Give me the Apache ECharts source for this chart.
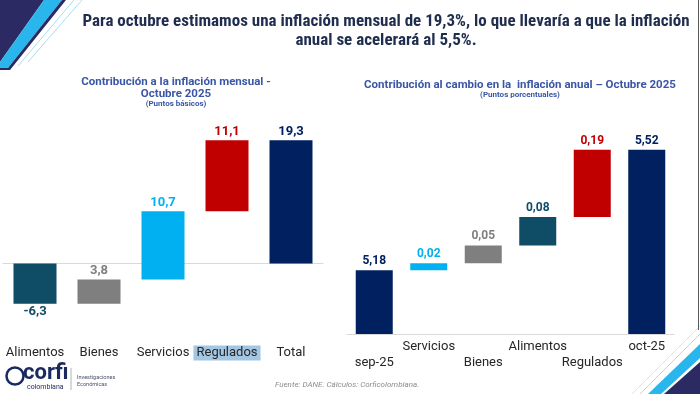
<!DOCTYPE html>
<html>
<head>
<meta charset="utf-8">
<script src="https://cdn.jsdelivr.net/npm/echarts@6/dist/echarts.min.js"></script>
<style>
  html, body { margin: 0; padding: 0; background: #fff; }
  #chart { width: 700px; height: 394px; }
</style>
</head>
<body>
<div id="chart"></div>
<script>
// ---- Data ----
const leftCategories = ['Alimentos', 'Bienes', 'Servicios', 'Regulados', 'Total'];
const leftValues = [-6.3, 3.8, 10.7, 11.1, 19.3];
const leftIsTotal = [false, false, false, false, true];

const rightCategories = ['sep-25', 'Servicios', 'Bienes', 'Alimentos', 'Regulados', 'oct-25'];
const rightValues = [5.18, 0.02, 0.05, 0.08, 0.19, 5.52];
const rightIsTotal = [true, false, false, false, false, true];

// ---- Styles ----
const NAVY = '#002060', TEAL = '#0F4C66', GRAY = '#7F7F7F', SKY = '#00B0F0', RED = '#C00000';
const leftColors = [TEAL, GRAY, SKY, RED, NAVY];
const rightColors = [NAVY, SKY, GRAY, TEAL, RED, NAVY];

function bases(values, isTotal) {
  let run = 0;
  return values.map((v, i) => {
    if (isTotal[i]) { run = v; return 0; }
    const b = run; run += v; return b;
  });
}
const leftBase = bases(leftValues, leftIsTotal);
const rightBase = bases(rightValues, rightIsTotal);

function fmt(v, d) { return v.toFixed(d).replace('.', ','); }

const chart = echarts.init(document.getElementById('chart'), null, { renderer: 'canvas' });

const subColor = '#3A56A5';
const option = {
  backgroundColor: '#ffffff',
  animation: false,
  title: [
    {
      text: 'Para octubre estimamos una inflación mensual de 19,3%, lo que llevaría a que la inflación\nanual se acelerará al 5,5%.',
      left: 381, top: 7, textAlign: 'center',
      textStyle: { fontFamily: 'Liberation Sans Narrow, Roboto Condensed, Roboto', fontWeight: 'bold', fontSize: 17, lineHeight: 19, color: '#1F2D4E' }
    },
    {
      text: 'Contribución a la inflación mensual -\nOctubre 2025',
      left: 171, top: 71, textAlign: 'center',
      textStyle: { fontFamily: 'Roboto', fontWeight: 'bold', fontSize: 11.5, lineHeight: 12, color: subColor },
      subtext: '(Puntos básicos)', itemGap: 0,
      subtextStyle: { fontFamily: 'Roboto', fontWeight: 'bold', fontSize: 8, color: subColor }
    },
    {
      text: 'Contribución al cambio en la  inflación anual – Octubre 2025',
      left: 515, top: 74, textAlign: 'center',
      textStyle: { fontFamily: 'Roboto', fontWeight: 'bold', fontSize: 11.5, lineHeight: 12, color: subColor },
      subtext: '(Puntos porcentuales)', itemGap: 0,
      subtextStyle: { fontFamily: 'Roboto', fontWeight: 'bold', fontSize: 8, color: subColor }
    },
    {
      text: 'Fuente: DANE. Cálculos: Corficolombiana.',
      left: 270, top: 376,
      textStyle: { fontFamily: 'Roboto', fontStyle: 'italic', fontWeight: 'normal', fontSize: 8, color: '#8C8C8C' }
    }
  ],
  grid: [
    { left: 3, right: 377, top: 104, bottom: 54 },
    { left: 347, right: 26, top: 86, bottom: 60 }
  ],
  xAxis: [
    {
      type: 'category', gridIndex: 0, data: leftCategories,
      axisLine: { lineStyle: { color: '#D9D9D9' } }, axisTick: { show: false },
      axisLabel: {
        margin: 5, fontFamily: 'Roboto', fontSize: 13, color: '#262626', lineHeight: 16, interval: 0,
        formatter: v => v === 'Regulados' ? '{hl|' + v + '}' : v,
        rich: { hl: { backgroundColor: '#A3C6E3', padding: [1, 3, 1, 3], fontFamily: 'Roboto', fontSize: 13, color: '#262626', lineHeight: 16 } }
      }
    },
    {
      type: 'category', gridIndex: 1, data: rightCategories,
      axisLine: { lineStyle: { color: '#D9D9D9' } }, axisTick: { show: false },
      axisLabel: {
        margin: 5, fontFamily: 'Roboto', fontSize: 13, color: '#262626', lineHeight: 16, interval: 0,
        formatter: (v, i) => (i % 2 === 0 ? '\n' + v : v)
      }
    }
  ],
  yAxis: [
    { type: 'value', gridIndex: 0, min: -12, max: 25, show: false, splitLine: { show: false } },
    { type: 'value', gridIndex: 1, min: 5.0, max: 5.7, show: false, splitLine: { show: false } }
  ],
  series: [
    {
      type: 'bar', xAxisIndex: 0, yAxisIndex: 0, stack: 'L', stackStrategy: 'all',
      data: leftBase, barWidth: 43, itemStyle: { color: 'transparent' }, silent: true
    },
    {
      type: 'bar', xAxisIndex: 0, yAxisIndex: 0, stack: 'L', stackStrategy: 'all', barWidth: 43,
      data: leftValues.map((v, i) => ({
        value: v,
        itemStyle: { color: leftColors[i] },
        label: { color: leftColors[i], position: v < 0 ? 'bottom' : 'top' }
      })),
      label: {
        show: true, distance: 2, fontFamily: 'Roboto', fontWeight: 'bold', fontSize: 13,
        formatter: p => fmt(leftValues[p.dataIndex], 1)
      }
    },
    {
      type: 'bar', xAxisIndex: 1, yAxisIndex: 1, stack: 'R', stackStrategy: 'all',
      data: rightBase, barWidth: 37, itemStyle: { color: 'transparent' }, silent: true
    },
    {
      type: 'bar', xAxisIndex: 1, yAxisIndex: 1, stack: 'R', stackStrategy: 'all', barWidth: 37,
      data: rightValues.map((v, i) => ({
        value: v,
        itemStyle: { color: rightColors[i] },
        label: { color: rightColors[i] }
      })),
      label: {
        show: true, position: 'top', distance: 3, fontFamily: 'Roboto', fontWeight: 'bold', fontSize: 12,
        formatter: p => fmt(rightValues[p.dataIndex], 2)
      }
    }
  ],
  graphic: [
    // top-left decoration
    { type: 'polygon', shape: { points: [[0, 0], [44, 0], [0, 62]] }, style: { fill: '#2B2A63' } },
    { type: 'polygon', shape: { points: [[44, 0], [62, 0], [8, 68], [0, 68], [0, 62]] }, style: { fill: '#29B6EC' } },
    { type: 'polygon', shape: { points: [[62, 0], [66, 0], [10, 70], [0, 70], [0, 68], [8, 68]] }, style: { fill: '#2B2A63' } },
    { type: 'line', shape: { x1: 74, y1: 0, x2: 18, y2: 66 }, style: { stroke: '#8FD3F0', lineWidth: 0.8 } },
    { type: 'line', shape: { x1: 82, y1: 0, x2: 28, y2: 62 }, style: { stroke: '#8FD3F0', lineWidth: 0.8 } },
    // bottom-right decoration
    { type: 'polygon', shape: { points: [[700, 362], [700, 394], [664, 394]] }, style: { fill: '#2B2A63' } },
    { type: 'polygon', shape: { points: [[700, 344], [700, 358], [661, 394], [648, 394]] }, style: { fill: '#29B6EC' } },
    { type: 'line', shape: { x1: 700, y1: 334, x2: 640, y2: 394 }, style: { stroke: '#8FD3F0', lineWidth: 0.8 } },
    { type: 'line', shape: { x1: 700, y1: 326, x2: 632, y2: 394 }, style: { stroke: '#BDE6F7', lineWidth: 0.8 } },
    // right border
    { type: 'line', shape: { x1: 698.5, y1: 0, x2: 698.5, y2: 330 }, style: { stroke: '#5A5A5A', lineWidth: 1 } },
    // logo
    { type: 'arc', shape: { cx: 15, cy: 376, r: 8.5, startAngle: 0, endAngle: Math.PI * 2 }, style: { stroke: '#1B2A5E', lineWidth: 2.5, fill: 'none' } },
    { type: 'text', left: 23, top: 362, style: { text: 'corfi', font: 'bold 22px Roboto', fill: '#1B2A5E' } },
    { type: 'text', left: 27, top: 384, style: { text: 'colombiana', font: '7px Roboto', fill: '#1B2A5E' } },
    { type: 'line', shape: { x1: 71, y1: 368, x2: 71, y2: 390 }, style: { stroke: '#9AA0B5', lineWidth: 0.8 } },
    { type: 'text', left: 77, top: 374, style: { text: 'Investigaciones\nEconómicas', font: '5.5px Roboto', fill: '#4A5070', lineHeight: 7 } }
  ]
};
chart.setOption(option);
</script>
</body>
</html>
